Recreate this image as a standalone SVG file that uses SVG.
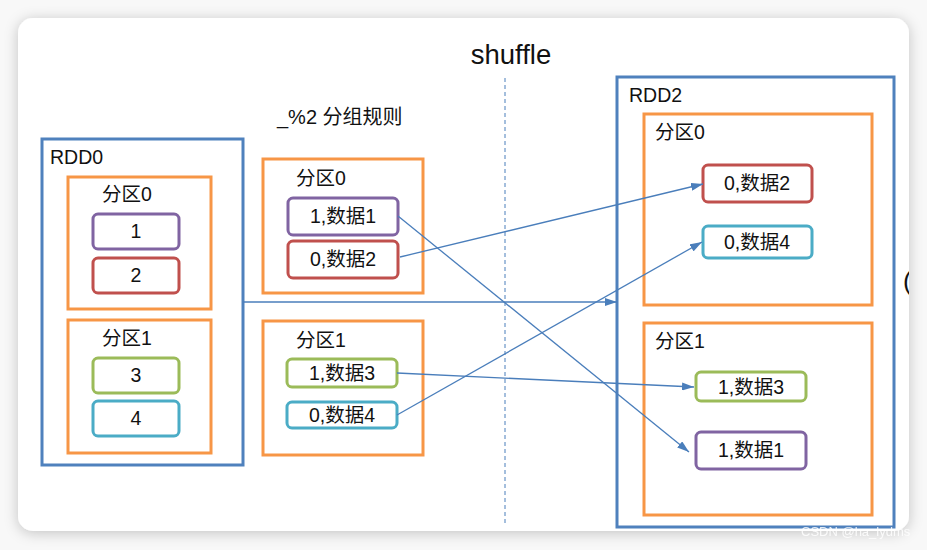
<svg xmlns="http://www.w3.org/2000/svg" width="927" height="550" viewBox="0 0 927 550">
<style>
text{font-family:"Liberation Sans","Noto Sans CJK SC",sans-serif;fill:#111}
.rdd{fill:none;stroke:#4f81bd;stroke-width:3}
.part{fill:none;stroke:#f79646;stroke-width:3}
.item{fill:#fff;stroke-width:3}
.pu{stroke:#8064a2}.rd{stroke:#c0504d}.gr{stroke:#9bbb59}.cy{stroke:#4bacc6}
.lbl{font-size:19.5px}
.it{font-size:19.5px;text-anchor:middle}
.con{fill:none;stroke:#4a7ebb;stroke-width:1.3}
</style>
<defs>
<marker id="ah" viewBox="0 0 12 8" refX="12" refY="4" markerWidth="12" markerHeight="8" markerUnits="userSpaceOnUse" orient="auto">
<path d="M0,0 L12,4 L0,8 Z" fill="#4a7ebb"/>
</marker>
<filter id="sh" x="-5%" y="-5%" width="110%" height="110%">
<feDropShadow dx="0" dy="2" stdDeviation="7" flood-color="#000" flood-opacity="0.22"/>
</filter>
<clipPath id="card"><rect x="18" y="18" width="891" height="513" rx="15"/></clipPath>
</defs>
<rect x="0" y="0" width="927" height="550" fill="#f8f8f8"/>
<rect x="18" y="18" width="891" height="513" rx="15" fill="#fff" filter="url(#sh)"/>
<text x="511" y="64" font-size="27.5" text-anchor="middle">shuffle</text>
<text x="277" y="124" font-size="20">_%2 分组规则</text>
<line x1="505" y1="78" x2="505" y2="525" stroke="#4a7ebb" stroke-width="1" stroke-dasharray="4,3"/>

<g id="rdd0">
<rect class="rdd" x="42" y="139" width="201" height="326"/>
<text class="lbl" x="50" y="164">RDD0</text>
</g>
<g id="rdd0-p0">
<rect class="part" x="68" y="177" width="143" height="132"/>
<text class="lbl" x="102" y="201">分区0</text>
</g>
<g id="rdd0-1"><rect class="item pu" x="93" y="214" width="86" height="35" rx="5"/><text class="it" x="136" y="238">1</text></g>
<g id="rdd0-2"><rect class="item rd" x="93" y="258" width="86" height="35" rx="5"/><text class="it" x="136" y="282">2</text></g>
<g id="rdd0-p1">
<rect class="part" x="68" y="320" width="143" height="133"/>
<text class="lbl" x="102" y="345">分区1</text>
</g>
<g id="rdd0-3"><rect class="item gr" x="93" y="358" width="86" height="35" rx="5"/><text class="it" x="136" y="382">3</text></g>
<g id="rdd0-4"><rect class="item cy" x="93" y="401" width="86" height="35" rx="5"/><text class="it" x="136" y="425">4</text></g>

<g id="mid-p0">
<rect class="part" x="263" y="159" width="160" height="134"/>
<text class="lbl" x="296" y="185">分区0</text>
</g>
<g id="mid-d1"><rect class="item pu" x="288" y="198" width="110" height="37" rx="5"/><text class="it" x="343" y="223">1,数据1</text></g>
<g id="mid-d2"><rect class="item rd" x="288" y="241" width="110" height="37" rx="5"/><text class="it" x="343" y="266">0,数据2</text></g>
<g id="mid-p1">
<rect class="part" x="263" y="321" width="160" height="134"/>
<text class="lbl" x="296" y="347">分区1</text>
</g>
<g id="mid-d3"><rect class="item gr" x="287" y="359" width="110" height="28" rx="5"/><text class="it" x="342" y="380">1,数据3</text></g>
<g id="mid-d4"><rect class="item cy" x="287" y="402" width="110" height="26" rx="5"/><text class="it" x="342" y="422">0,数据4</text></g>

<g id="rdd2">
<rect class="rdd" x="617" y="77" width="277" height="450"/>
<text class="lbl" x="629" y="102">RDD2</text>
</g>
<g id="rdd2-p0">
<rect class="part" x="644" y="114" width="228" height="191"/>
<text class="lbl" x="655" y="139">分区0</text>
</g>
<g id="rdd2-d2"><rect class="item rd" x="703" y="165" width="109" height="37" rx="5"/><text class="it" x="757" y="190">0,数据2</text></g>
<g id="rdd2-d4"><rect class="item cy" x="703" y="226" width="109" height="32" rx="5"/><text class="it" x="757" y="249">0,数据4</text></g>
<g id="rdd2-p1">
<rect class="part" x="644" y="323" width="228" height="192"/>
<text class="lbl" x="655" y="348">分区1</text>
</g>
<g id="rdd2-d3"><rect class="item gr" x="696" y="372" width="110" height="29" rx="5"/><text class="it" x="751" y="394">1,数据3</text></g>
<g id="rdd2-d1"><rect class="item pu" x="696" y="432" width="110" height="37" rx="5"/><text class="it" x="751" y="457">1,数据1</text></g>

<g id="connectors">
<line class="con" x1="243" y1="302" x2="617" y2="302" marker-end="url(#ah)"/>
<line class="con" x1="398" y1="216" x2="689" y2="452" marker-end="url(#ah)"/>
<line class="con" x1="400" y1="257" x2="703" y2="184" marker-end="url(#ah)"/>
<line class="con" x1="397" y1="373" x2="694" y2="387" marker-end="url(#ah)"/>
<line class="con" x1="397" y1="415" x2="702" y2="242" marker-end="url(#ah)"/>
</g>
<g clip-path="url(#card)"><text x="903" y="290" font-size="26">(</text></g>
<text x="801" y="536" font-size="13" style="fill:#fff;opacity:0.85">CSDN @ha_lydms</text>
</svg>
